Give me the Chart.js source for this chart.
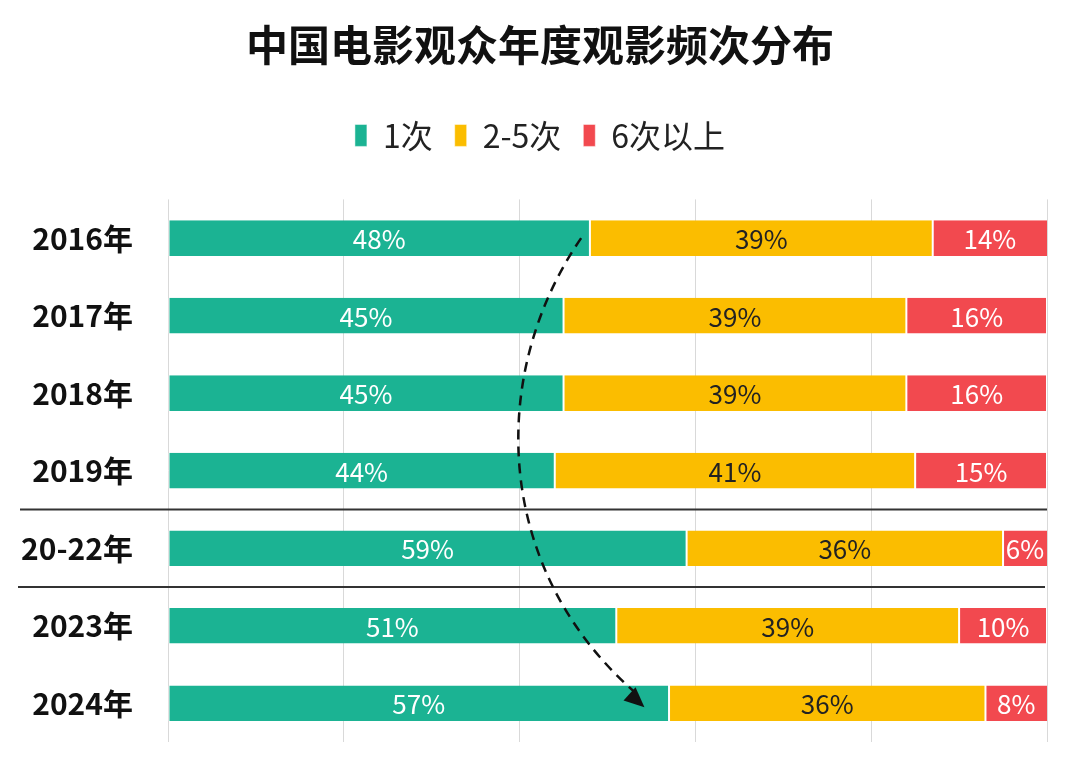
<!DOCTYPE html>
<html>
<head>
<meta charset="utf-8">
<script src="https://cdn.jsdelivr.net/npm/chart.js@4"></script>
<style>
  html, body { margin: 0; padding: 0; background: #fff; }
  #wrap { width: 1080px; height: 759px; }
</style>
</head>
<body>
<div id="wrap"><canvas id="chart" width="1080" height="759"></canvas></div>
<script>
const years = ['2016年', '2017年', '2018年', '2019年', '20-22年', '2023年', '2024年'];
const once = [48, 45, 45, 44, 59, 51, 57];
const twoToFive = [39, 39, 39, 41, 36, 39, 36];
const sixPlus = [14, 16, 16, 15, 6, 10, 8];
const xTicks = [0, 20, 40, 60, 80, 100];

const FONT = '"Noto Sans CJK SC", "Noto Sans", sans-serif';

// percentage text in the middle of each visible segment
const segmentLabels = {
  id: 'segmentLabels',
  afterDatasetsDraw(chart) {
    const ctx = chart.ctx;
    const area = chart.chartArea;
    ctx.save();
    ctx.font = '26px ' + FONT;
    ctx.textAlign = 'center';
    ctx.textBaseline = 'middle';
    chart.data.datasets.forEach((ds, i) => {
      chart.getDatasetMeta(i).data.forEach((bar, j) => {
        const left = Math.max(Math.min(bar.x, bar.base), area.left);
        const right = Math.min(Math.max(bar.x, bar.base), area.right);
        ctx.fillStyle = ds.labelColor;
        ctx.fillText(ds.data[j] + '%', (left + right) / 2, bar.y + 1);
      });
    });
    ctx.restore();
  }
};

// extra room under the legend
const legendGap = {
  id: 'legendGap',
  beforeInit(chart) {
    const fit = chart.legend.fit;
    chart.legend.fit = function () {
      fit.bind(chart.legend)();
      this.height += 38;
    };
  }
};

// the two period separators and the dashed trend arrow
const annotations = {
  id: 'annotations',
  afterDatasetsDraw(chart) {
    const ctx = chart.ctx;
    const x = chart.scales.x;
    const y = chart.scales.y;
    const area = chart.chartArea;
    ctx.save();

    ctx.strokeStyle = '#333';
    ctx.lineWidth = 2;
    [3.5, 4.5].forEach((pos, k) => {
      const py = y.getPixelForValue(pos);
      ctx.beginPath();
      ctx.moveTo(k === 0 ? 20 : 18, py);
      ctx.lineTo(k === 0 ? area.right : area.right - 2, py);
      ctx.stroke();
    });

    const y0 = y.getPixelForValue(0);
    const y3 = y.getPixelForValue(6);
    const p0 = [x.getPixelForValue(47), y0];
    const p1 = [x.getPixelForValue(36.1), y0 + (y3 - y0) * 0.3];
    const p2 = [x.getPixelForValue(37.2), y0 + (y3 - y0) * 0.72];
    const p3 = [x.getPixelForValue(54.2), y3 + 4];
    ctx.strokeStyle = '#111';
    ctx.lineWidth = 2.5;
    ctx.setLineDash([10, 7]);
    ctx.beginPath();
    ctx.moveTo(p0[0], p0[1]);
    ctx.bezierCurveTo(p1[0], p1[1], p2[0], p2[1], p3[0] - 6, p3[1] - 12);
    ctx.stroke();
    ctx.setLineDash([]);

    const ang = Math.atan2(p3[1] - p2[1], p3[0] - p2[0]);
    const len = 20, wid = 9;
    ctx.fillStyle = '#111';
    ctx.beginPath();
    ctx.moveTo(p3[0], p3[1]);
    ctx.lineTo(p3[0] - len * Math.cos(ang) + wid * Math.sin(ang), p3[1] - len * Math.sin(ang) - wid * Math.cos(ang));
    ctx.lineTo(p3[0] - len * Math.cos(ang) - wid * Math.sin(ang), p3[1] - len * Math.sin(ang) + wid * Math.cos(ang));
    ctx.closePath();
    ctx.fill();
    ctx.restore();
  }
};

const mkSet = (label, data, color, labelColor) => ({
  label,
  data,
  backgroundColor: color,
  borderColor: '#fff',
  borderWidth: { left: 1, right: 1, top: 0, bottom: 0 },
  borderSkipped: false,
  labelColor,
  barPercentage: 0.92,
  categoryPercentage: 0.5
});

new Chart(document.getElementById('chart').getContext('2d'), {
  type: 'bar',
  data: {
    labels: years,
    datasets: [
      mkSet('1次', once, '#1bb393', '#fff'),
      mkSet('2-5次', twoToFive, '#fbbd00', '#222'),
      mkSet('6次以上', sixPlus, '#f2494f', '#fff')
    ]
  },
  plugins: [segmentLabels, legendGap, annotations],
  options: {
    indexAxis: 'y',
    responsive: false,
    animation: false,
    layout: { padding: { left: 16.5, right: 16.5, top: 0, bottom: 17 } },
    plugins: {
      title: {
        display: true,
        text: '中国电影观众年度观影频次分布',
        color: '#111',
        font: { family: FONT, size: 42, weight: 'bold' },
        padding: { top: 20, bottom: 27 }
      },
      legend: {
        position: 'top',
        labels: {
          color: '#222',
          font: { family: FONT, size: 32 },
          boxWidth: 12,
          boxHeight: 22,
          padding: 22
        }
      },
      tooltip: { enabled: false }
    },
    scales: {
      x: {
        stacked: true,
        min: 0,
        max: 100,
        afterBuildTicks: (s) => { s.ticks = xTicks.map(v => ({ value: v })); },
        afterFit: (s) => { s.height = 0; },
        ticks: { display: false },
        border: { display: false },
        grid: { color: '#d9d9d9', lineWidth: 1, drawTicks: false }
      },
      y: {
        stacked: true,
        afterFit: (s) => {
          s.width = 151.5;
          s.paddingTop = 0;
          s.paddingBottom = 0;
        },
        ticks: {
          color: '#111',
          padding: 35,
          font: { family: FONT, size: 30, weight: 'bold' }
        },
        border: { display: false },
        grid: { display: false, drawTicks: false }
      },
      // empty right-hand axis, only reserves the right margin
      yRight: {
        axis: 'y',
        type: 'category',
        position: 'right',
        afterFit: (s) => {
          s.width = 16.5;
          s.paddingTop = 0;
          s.paddingBottom = 0;
        },
        ticks: { display: false },
        border: { display: false },
        grid: { display: false, drawTicks: false }
      }
    }
  }
});
</script>
</body>
</html>
